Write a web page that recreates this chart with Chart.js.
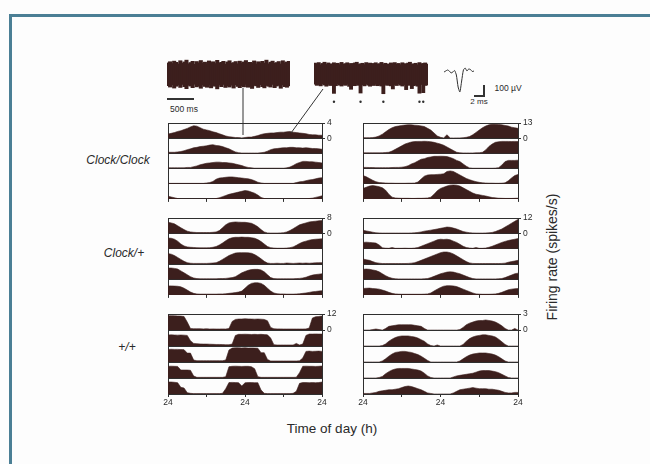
<!DOCTYPE html>
<html>
<head>
<meta charset="utf-8">
<script src="https://cdn.jsdelivr.net/npm/chart.js@4.4.1/dist/chart.umd.min.js"></script>
<style>
  html, body { margin: 0; padding: 0; background: #fff; }
  #stage { position: relative; width: 650px; height: 464px; overflow: hidden; background: #fdfdfd;
           font-family: "Liberation Sans", Arial, sans-serif; color: #2a2a2a; }
  #frame { position: absolute; left: 9px; top: 14px; width: 700px; height: 500px;
           border-left: 3px solid #4b7f95; border-top: 3px solid #4b7f95; }
  canvas { position: absolute; }
  .txt { position: absolute; white-space: nowrap; line-height: 1; transform: translate(-50%, -50%); }
  .bar { position: absolute; background: #333; }
  svg { position: absolute; left: 0; top: 0; }
</style>
</head>
<body>
<div id="stage">
  <div id="frame"></div>

  <div class="bar" style="left:167px;top:98px;width:27px;height:1.5px"></div>
  <div class="txt" style="left:184px;top:109px;font-size:8.5px">500 ms</div>

  <div class="bar" style="left:483px;top:85px;width:1.5px;height:11px"></div>
  <div class="bar" style="left:474px;top:95px;width:10.5px;height:1.5px"></div>
  <div class="txt" style="left:508px;top:88px;font-size:8.5px">100 µV</div>
  <div class="txt" style="left:479px;top:102px;font-size:8px">2 ms</div>

  <div class="txt" style="left:118px;top:160px;font-size:12px;font-style:italic">Clock/Clock</div>
  <div class="txt" style="left:124px;top:253px;font-size:12px;font-style:italic">Clock/+</div>
  <div class="txt" style="left:127px;top:347px;font-size:12px;font-style:italic">+/+</div>

  <div class="txt" style="left:552px;top:257px;font-size:14px;transform:translate(-50%,-50%) rotate(-90deg)">Firing rate (spikes/s)</div>
  <div class="txt" style="left:332px;top:429px;font-size:13.5px">Time of day (h)</div>
</div>

<script>
// hours across the double-plotted 48 h window
const hours = [0,1,2,3,4,5,6,7,8,9,10,11,12,13,14,15,16,17,18,19,20,21,22,23,24,
  25,26,27,28,29,30,31,32,33,34,35,36,37,38,39,40,41,42,43,44,45,46,47,48];
const hourTicks = [0, 12, 24, 36, 48];
const dayTicks = [0, 24, 48];
const dayTickLabels = ['24', '24', '24'];

// firing rate (spikes/s), five recording days per panel
const clockClockA = [
  [1.1,1.3,1.5,1.8,2.0,2.3,2.6,3.0,3.3,3.2, 2.8,2.4,2.2,2.0,1.7,1.5,1.2,0.9,0.6,0.4, 0.3,0.2,0.2,0.1,0.2,0.3,0.3,0.5,0.7,1.0, 1.2,1.3,1.4,1.4,1.5,1.6,1.6,1.7,1.8,1.6, 1.5,1.4,1.3,1.2,1.0,0.9,0.9,0.8,0.8],
  [0.3,0.3,0.3,0.4,0.5,0.7,1.0,1.2,1.5,1.6, 1.8,1.9,2.0,2.2,2.3,2.1,2.0,1.8,1.5,1.2, 0.8,0.4,0.2,0.1,0.1,0.1,0.1,0.1,0.1,0.2, 0.3,0.6,1.0,1.2,1.3,1.4,1.5,1.5,1.6,1.6, 1.5,1.5,1.4,1.5,1.4,1.3,1.3,1.2,1.1],
  [0.2,0.2,0.2,0.2,0.2,0.2,0.3,0.3,0.5,0.7, 1.0,1.2,1.4,1.5,1.6,1.7,1.7,1.6,1.6,1.5, 1.4,1.2,1.0,0.8,0.5,0.3,0.2,0.1,0.1,0.1, 0.1,0.1,0.1,0.1,0.1,0.1,0.1,0.2,0.4,0.8, 1.3,1.6,1.9,1.9,1.8,1.8,1.7,1.6,1.5],
  [0.1,0.1,0.1,0.1,0.1,0.1,0.1,0.1,0.1,0.1, 0.1,0.1,0.2,0.3,0.6,1.2,1.5,1.6,1.7,1.8, 1.8,1.7,1.6,1.5,1.4,1.3,1.1,0.8,0.4,0.2, 0.1,0.1,0.1,0.1,0.1,0.1,0.1,0.1,0.1,0.1, 0.3,0.5,0.6,0.8,1.0,1.1,1.3,1.5,1.6],
  [0.7,0.5,0.3,0.1,0.0,0.0,0.0,0.0,0.0,0.0, 0.0,0.0,0.0,0.0,0.0,0.1,0.3,0.6,0.9,1.2, 1.4,1.6,1.8,2.0,2.2,2.1,1.8,1.5,1.0,0.4, 0.1,0.0,0.0,0.0,0.0,0.0,0.0,0.0,0.0,0.0, 0.0,0.0,0.0,0.0,0.1,0.2,0.4,0.6,0.8]
];
const clockClockB = [
  [0.5,0.5,0.5,0.6,1.0,2.0,3.5,5.5,7.5,9.0, 10.0,10.5,11.0,11.3,11.6,11.5,11.2,11.0,10.6,10.0, 8.5,7.0,4.5,2.0,0.8,0.3,3.0,0.3,0.2,0.3, 0.3,0.5,0.8,1.5,3.0,5.0,7.0,9.0,10.5,11.5, 12.0,12.0,11.8,11.5,11.0,10.5,9.5,9.0,8.5],
  [0.5,0.5,0.5,0.5,0.5,0.5,0.6,0.8,1.0,2.0, 3.5,5.0,6.5,8.0,9.0,9.8,10.2,10.3,10.3,10.4, 10.3,10.0,9.5,8.8,8.0,7.0,5.5,4.0,2.5,1.0, 0.5,0.4,0.4,0.4,0.4,0.5,0.6,1.0,3.0,6.0, 8.0,9.5,10.0,10.3,10.3,10.3,10.2,10.3,10.2],
  [1.0,1.0,0.9,0.9,0.8,0.8,0.8,0.8,0.8,0.9, 1.0,1.0,1.2,1.6,2.5,4.0,5.0,6.5,8.0,8.5, 9.5,10.0,10.5,10.5,10.6,10.5,10.3,9.5,8.5,7.0, 6.0,4.0,2.0,0.6,0.3,0.3,0.3,0.3,0.3,0.3, 0.3,0.4,0.8,3.0,6.0,7.0,7.0,7.0,7.2],
  [7.0,6.0,4.5,3.0,1.8,1.0,0.8,0.6,0.5,0.5, 0.4,0.4,0.4,0.4,0.5,0.5,0.6,1.5,4.0,6.5, 7.5,7.8,7.8,8.0,8.2,8.5,10.5,11.0,10.5,9.0, 7.5,6.0,4.5,3.5,2.5,1.8,1.2,0.8,0.6,0.5, 0.5,0.4,0.4,0.5,0.8,2.5,5.0,7.0,8.0],
  [9.0,10.0,11.0,11.4,11.0,10.5,9.5,7.5,4.0,1.5, 0.8,0.6,0.5,0.5,0.5,0.4,0.4,0.5,0.5,0.6, 0.8,1.5,4.0,7.0,9.0,10.0,11.0,11.8,12.0,11.8, 11.0,9.5,8.0,6.5,5.0,4.0,3.5,3.0,2.5,1.8, 1.2,0.9,0.6,0.5,0.4,0.4,0.4,0.5,0.6]
];
const clockHetA = [
  [5.8,5.5,5.0,4.0,3.0,2.0,1.2,0.8,0.6,0.5, 0.5,0.5,0.5,0.5,0.6,0.8,1.5,3.0,4.5,5.5, 5.8,6.0,5.9,5.8,5.8,5.6,5.3,4.5,3.5,2.0, 0.8,0.3,0.2,0.2,0.2,0.3,0.4,0.8,1.5,2.5, 3.5,4.5,5.0,5.5,6.0,6.2,6.4,6.6,6.7],
  [5.6,5.5,5.0,4.0,2.5,1.5,1.0,0.8,0.7,0.6, 0.5,0.5,0.5,0.6,0.8,1.2,2.0,3.0,4.2,5.2, 5.8,6.0,6.0,6.1,6.0,6.0,5.8,5.5,4.8,3.8, 2.5,1.2,0.6,0.4,0.3,0.3,0.3,0.4,0.6,1.0, 1.8,2.8,3.5,4.0,4.5,4.8,5.0,5.1,5.2],
  [5.5,5.2,4.5,3.5,2.5,1.5,0.8,0.5,0.4,0.4, 0.4,0.4,0.4,0.5,0.6,0.8,1.5,2.5,3.5,4.5, 5.2,5.8,6.0,6.0,6.0,5.9,5.7,5.0,4.0,2.8, 1.5,0.6,0.4,0.4,0.5,0.4,0.4,0.6,0.5,0.4, 0.5,0.6,0.5,0.6,0.5,0.6,0.7,0.8,0.8],
  [6.0,6.0,5.8,5.5,4.5,3.5,2.5,1.5,0.8,0.5, 0.4,0.4,0.4,0.4,0.4,0.4,0.5,0.5,0.6,0.8, 1.0,1.5,2.5,3.5,4.2,4.8,5.2,5.3,5.3,5.0, 4.0,2.5,1.0,0.5,0.4,0.4,0.4,0.4,0.4,0.4, 0.5,0.6,0.8,1.2,1.8,2.3,2.6,2.8,3.0],
  [4.7,4.7,4.6,4.5,4.2,3.5,2.5,1.5,0.8,0.5, 0.4,0.4,0.4,0.4,0.4,0.4,0.5,0.5,0.6,0.8, 1.0,1.2,1.5,2.0,3.5,5.0,6.0,6.3,6.3,6.0, 5.0,3.5,2.0,1.0,0.6,0.5,0.5,0.4,0.4,0.4, 0.5,0.6,0.8,1.0,1.3,1.6,1.8,2.0,2.2]
];
const clockHetB = [
  [2.5,2.0,1.5,1.0,0.5,0.4,0.3,0.3,0.3,0.3, 0.3,0.3,0.3,0.3,0.3,0.4,0.5,0.8,1.2,1.8, 2.2,2.6,3.0,3.5,4.0,4.5,5.0,4.8,4.2,3.5, 2.5,1.5,1.0,0.6,0.4,0.3,0.3,0.3,0.4,0.5, 0.8,1.5,2.5,3.5,5.0,6.5,8.0,9.5,11.0],
  [5.0,5.2,5.0,4.8,4.5,3.0,0.8,0.5,0.4,1.0, 0.4,0.4,0.4,0.5,0.4,0.4,0.6,1.0,2.0,3.0, 4.0,5.0,6.0,7.0,7.5,7.3,7.5,7.0,6.0,5.0, 3.5,2.0,1.0,0.6,0.4,1.0,0.4,0.4,0.6,1.2, 2.0,3.0,4.0,5.0,5.8,6.5,7.0,7.5,8.0],
  [4.0,3.5,3.0,2.0,1.2,0.8,0.5,0.5,0.5,0.5, 0.5,0.5,0.5,0.5,0.6,0.8,1.2,2.0,3.0,4.0, 5.0,6.0,7.0,8.0,9.0,9.5,9.5,9.0,8.0,6.5, 5.0,3.5,2.0,1.0,0.6,0.5,0.5,0.5,0.5,0.5, 0.5,0.5,0.5,0.6,0.8,1.5,2.0,2.5,3.0],
  [8.0,8.2,8.0,7.5,7.0,6.0,4.5,3.0,1.8,1.0, 0.6,0.5,0.5,0.5,0.5,0.5,0.5,0.5,0.5,0.6, 0.8,1.5,2.5,3.5,4.5,5.2,5.8,6.0,5.8,5.2, 4.5,3.5,2.5,1.5,0.8,0.5,0.5,0.5,0.5,0.5, 0.5,0.5,0.6,0.8,1.5,2.5,3.5,4.5,5.0],
  [5.0,5.2,5.3,5.0,4.8,4.5,3.8,3.0,2.0,1.2, 0.8,0.6,0.5,0.5,0.5,0.5,0.5,0.5,0.5,0.6, 0.8,1.5,3.0,4.5,5.8,6.8,7.2,7.2,7.0,6.5, 5.5,4.5,3.5,2.5,1.5,0.8,0.6,0.5,0.5,0.5, 0.6,0.8,1.2,2.0,3.0,4.0,4.5,4.8,5.0]
];
const wildTypeA = [
  [10.7,10.8,10.7,10.6,10.5,10.2,6.0,1.2,1.0,1.0, 1.0,0.9,1.0,0.8,0.9,0.8,0.8,0.9,0.8,1.2, 6.5,8.0,8.3,8.3,8.5,8.4,8.3,8.2,8.3,8.2, 8.0,7.0,2.0,1.0,0.9,0.9,0.8,0.8,0.8,0.8, 0.8,0.8,0.8,0.9,1.5,9.0,10.0,10.2,10.5],
  [8.3,8.4,8.3,8.2,8.3,8.2,8.0,4.0,2.0,1.8, 1.6,1.5,1.5,1.4,1.3,1.2,1.2,1.1,1.0,1.0, 1.5,8.0,8.8,8.8,8.9,8.8,8.7,8.8,8.7,8.8, 8.6,8.4,6.0,1.0,0.8,0.8,0.8,0.8,0.8,0.8, 2.0,0.8,1.5,8.0,9.0,9.0,9.1,9.0,9.0],
  [9.5,9.6,9.5,9.5,9.4,9.3,6.7,6.7,1.5,1.0, 1.0,1.0,1.0,1.0,1.0,1.0,1.0,1.0,1.5,9.0, 10.5,10.7,10.7,10.6,10.7,10.5,10.6,10.5,10.4,7.0, 7.0,2.0,0.8,0.8,0.8,0.8,0.8,0.8,0.8,0.8, 0.8,0.9,3.0,8.0,8.2,8.0,8.1,8.2,8.0],
  [8.8,8.9,8.8,8.7,6.0,6.0,6.0,5.8,1.5,0.5, 0.5,0.5,0.5,0.5,0.5,0.5,0.5,0.5,1.0,8.5, 8.8,8.9,8.8,8.7,8.8,8.8,8.5,7.0,1.0,0.5, 0.5,0.5,0.5,0.5,0.5,0.5,0.5,0.5,0.5,0.5, 0.6,4.0,8.8,8.9,8.8,8.8,8.7,8.8,9.0],
  [9.0,9.0,8.8,8.5,5.0,4.5,1.0,0.5,0.3,0.3, 0.3,0.3,0.3,0.3,0.3,0.3,0.3,0.5,4.0,8.6, 8.7,8.6,8.5,6.0,8.4,8.6,8.6,8.5,8.5,3.0, 0.5,0.3,0.3,0.3,0.3,0.3,0.3,0.3,0.3,0.5, 2.0,8.0,8.6,8.6,8.5,8.6,8.5,8.6,9.0]
];
const wildTypeB = [
  [0.0,0.0,0.0,0.1,0.2,0.1,0.0,0.3,0.7,0.8, 0.9,1.0,1.0,1.0,1.0,1.0,0.9,0.8,0.7,0.3, 0.0,0.0,0.0,0.0,0.0,0.0,0.0,0.0,0.0,0.0, 0.1,0.5,1.0,1.3,1.5,1.7,1.8,1.8,1.9,1.8, 1.7,1.5,1.2,0.8,0.3,0.0,0.0,0.3,0.0],
  [0.0,0.0,0.0,0.0,0.0,0.0,0.1,0.4,0.9,1.3, 1.6,1.8,1.9,1.9,1.9,1.8,1.7,1.5,1.2,0.9, 0.4,0.1,0.0,0.2,0.0,0.0,0.0,0.0,0.0,0.0, 0.0,0.3,0.9,1.4,1.7,1.9,2.0,2.1,2.1,2.0, 1.9,1.7,1.3,0.8,0.3,0.0,0.0,0.0,0.0],
  [0.0,0.0,0.0,0.0,0.0,0.0,0.2,0.6,1.1,1.5, 1.8,1.9,2.0,2.0,1.9,1.8,1.6,1.4,1.1,0.7, 0.3,0.0,0.0,0.0,0.0,0.0,0.0,0.0,0.0,0.0, 0.2,0.6,1.0,1.3,1.5,1.6,1.7,1.7,1.7,1.6, 1.5,1.3,1.0,0.6,0.2,0.0,0.0,0.0,0.0],
  [0.0,0.0,0.0,0.0,0.0,0.1,0.3,0.8,1.2,1.5, 1.7,1.8,1.8,1.8,1.8,1.7,1.6,1.5,1.3,0.9, 0.4,0.1,0.0,0.0,0.0,0.0,0.0,0.0,0.2,0.4, 0.5,0.6,0.7,0.8,0.9,1.1,1.3,1.4,1.4,1.4, 1.3,1.2,1.0,0.7,0.4,0.1,0.0,0.0,0.0],
  [0.1,0.1,0.1,0.2,0.3,0.5,0.6,0.7,0.8,0.8, 0.9,1.0,1.2,1.4,1.5,1.4,1.2,1.0,0.8,0.5, 0.2,0.1,0.0,0.0,0.0,0.0,0.0,0.0,0.2,0.5, 0.8,0.9,1.0,1.1,1.2,1.1,1.0,1.0,1.0,0.9, 0.9,0.8,0.7,0.5,0.3,0.2,0.2,0.3,0.3]
];
const panelMax = [4, 13, 8, 12, 12, 3];

// raw voltage traces (µV): upper and lower envelope per bin
const trace1High = [52,58,49,61,55,47,63,50,57,66,48,54,60,45,59,52,64,50,56,47,62,53,58,49,65,51,55,60,46,57,
  63,50,54,59,48,61,52,57,64,49,55,50,62,47,58,53,60,51,66,48,56,61,50,54,59,47,63,52,57,60];
const trace1Low = [-55,-62,-50,-67,-58,-52,-64,-49,-60,-70,-53,-57,-65,-48,-61,-56,-68,-51,-59,-63,-50,-66,-54,-58,-71,-52,-60,-49,-64,-57,
  -62,-53,-67,-50,-59,-65,-55,-61,-48,-63,-58,-69,-52,-56,-64,-50,-60,-66,-54,-58,-62,-49,-65,-57,-53,-68,-51,-60,-63,-56];
const trace2High = [68,62,71,58,66,73,60,69,64,57,70,63,67,59,72,61,65,70,58,66,62,69,73,60,64,67,59,71,63,68,
  57,66,70,61,65,72,60,67,63,58,69,64,71,62,66,59,70,65,61,68,73,60,64,67,58,71,63,66,69,62];
const trace2Low = [-48,-55,-50,-58,-46,-53,-60,-49,-56,-52,-102,-57,-47,-54,-59,-50,-55,-48,-61,-78,-52,-57,-49,-55,-100,-51,-58,-46,-54,-60,
  -50,-56,-48,-57,-53,-59,-104,-49,-55,-52,-58,-76,-50,-56,-47,-54,-59,-51,-80,-55,-49,-74,-57,-52,-60,-101,-50,-98,-55,-53];
const spikeBins = [10, 24, 36, 55, 57];
const spikeMarkLevel = -155;
// averaged spike waveform (µV), 0.25 ms steps
const waveform = [0, 10, 20, 10, -10, 0, 15, -30, -150, -200, -90, 20, 40, 10, 30, 25, 5, 10];

const lineColor = '#2f2f2f';
const fillColor = '#3c1f1d';
const stage = document.getElementById('stage');

Chart.defaults.font.family = '"Liberation Sans", Arial, sans-serif';
Chart.defaults.font.size = 8.5;
Chart.defaults.color = '#2a2a2a';

function addCanvas(left, top, w, h) {
  const c = document.createElement('canvas');
  c.width = w;
  c.height = h;
  c.style.left = left + 'px';
  c.style.top = top + 'px';
  stage.appendChild(c);
  return c;
}

const quiet = { legend: { display: false }, tooltip: { enabled: false } };

function makePanel(rows, max, left, top, width, height, showDays) {
  const pad = 6, axisW = 18, axisH = showDays ? 16 : 4;
  const canvas = addCanvas(left - pad, top - pad, width + pad + axisW, height + pad + axisH);

  const scales = {
    x: {
      type: 'linear', min: 0, max: 48,
      afterBuildTicks: s => { s.ticks = hourTicks.map(v => ({ value: v })); },
      afterFit: s => { s.height = axisH; },
      grid: {
        color: c => (c.tick && (c.tick.value === 0 || c.tick.value === 48)) ? lineColor : 'rgba(0,0,0,0)',
        tickColor: lineColor, tickLength: 3, lineWidth: 1
      },
      border: { display: false },
      ticks: {
        display: showDays, padding: 1, maxRotation: 0, autoSkip: false,
        callback: v => { const i = dayTicks.indexOf(v); return i < 0 ? '' : dayTickLabels[i]; }
      }
    }
  };
  rows.forEach((row, i) => {
    scales['y' + i] = {
      type: 'linear', position: 'right', stack: 'days', stackWeight: 1, weight: i,
      min: 0, max: max,
      afterBuildTicks: s => { s.ticks = [{ value: 0 }, { value: max }]; },
      afterFit: s => { s.width = axisW; },
      grid: { color: lineColor, lineWidth: 1, drawTicks: i === 0, tickLength: 3 },
      border: { display: false },
      ticks: { display: i === 0, padding: 2, autoSkip: false }
    };
  });

  new Chart(canvas, {
    type: 'line',
    data: {
      labels: hours,
      datasets: rows.map((row, i) => ({
        data: row, yAxisID: 'y' + i, fill: 'origin',
        backgroundColor: fillColor, borderColor: fillColor, borderWidth: 0.6,
        pointRadius: 0, tension: 0
      }))
    },
    options: {
      responsive: false, animation: false,
      layout: { padding: { left: pad, top: pad, right: 0, bottom: 0 } },
      plugins: quiet, scales: scales
    }
  });
}

makePanel(clockClockA, panelMax[0], 168, 122, 154, 80, false);
makePanel(clockClockB, panelMax[1], 363, 122, 155, 80, false);
makePanel(clockHetA, panelMax[2], 168, 217, 154, 81, false);
makePanel(clockHetB, panelMax[3], 363, 217, 155, 81, false);
makePanel(wildTypeA, panelMax[4], 168, 313, 154, 81, true);
makePanel(wildTypeB, panelMax[5], 363, 313, 155, 81, true);

function makeTrace(high, low, left, top, width, height, yMin, marks) {
  const canvas = addCanvas(left, top, width, height);
  const bins = high.map((_, i) => i);
  const datasets = [{
    type: 'bar', data: high.map((h, i) => [low[i], h]),
    backgroundColor: fillColor, borderColor: fillColor, borderWidth: 0, inflateAmount: 1,
    barPercentage: 1, categoryPercentage: 1
  }];
  if (marks) {
    datasets.push({
      type: 'line', data: bins.map(i => marks.includes(i) ? spikeMarkLevel : null),
      showLine: false, pointRadius: 1.2, pointBackgroundColor: lineColor, pointBorderWidth: 0
    });
  }
  new Chart(canvas, {
    type: 'bar',
    data: { labels: bins, datasets: datasets },
    options: {
      responsive: false, animation: false, layout: { padding: 0 }, plugins: quiet,
      scales: { x: { display: false }, y: { display: false, min: yMin, max: 90 } }
    }
  });
}

makeTrace(trace1High, trace1Low, 167, 56, 123, 40, -110, null);
makeTrace(trace2High, trace2Low, 310, 56, 122, 54, -180, spikeBins);

// spike waveform
new Chart(addCanvas(444, 62, 30, 34), {
  type: 'line',
  data: {
    labels: waveform.map((_, i) => i),
    datasets: [{ data: waveform, borderColor: lineColor, borderWidth: 1, pointRadius: 0, tension: 0.2 }]
  },
  options: {
    responsive: false, animation: false, layout: { padding: 0 }, plugins: quiet,
    scales: { x: { display: false }, y: { display: false, min: -240, max: 100 } }
  }
});

// connectors from the raw traces into the first record
const svgNS = 'http://www.w3.org/2000/svg';
const svg = document.createElementNS(svgNS, 'svg');
svg.setAttribute('width', 650);
svg.setAttribute('height', 464);
[[243, 88, 243, 135], [323, 89, 291, 133]].forEach(l => {
  const ln = document.createElementNS(svgNS, 'line');
  ln.setAttribute('x1', l[0]); ln.setAttribute('y1', l[1]);
  ln.setAttribute('x2', l[2]); ln.setAttribute('y2', l[3]);
  ln.setAttribute('stroke', '#333'); ln.setAttribute('stroke-width', 1);
  svg.appendChild(ln);
});
stage.appendChild(svg);
</script>
</body>
</html>
